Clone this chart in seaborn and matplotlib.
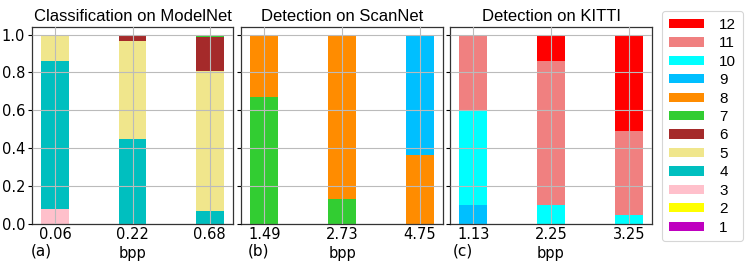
import matplotlib
matplotlib.use("Agg")
import matplotlib.pyplot as plt
import seaborn as sns
import numpy as np
from matplotlib.patches import Patch

# ---------------- data ----------------
classes = [1, 2, 3, 4, 5, 6, 7, 8, 9, 10, 11, 12]
class_colors = ["#bf00bf", "#ffff00", "#ffc0cb", "#00bfbf", "#f0e68c", "#a52a2a",
                "#32cd32", "#ff8c00", "#00bfff", "#00ffff", "#f08080", "#ff0000"]

titles = ["Classification on ModelNet", "Detection on ScanNet", "Detection on KITTI"]
panel_tags = ["(a)", "(b)", "(c)"]

modelnet_bpp = ["0.06", "0.22", "0.68"]
scannet_bpp = ["1.49", "2.73", "4.75"]
kitti_bpp = ["1.13", "2.25", "3.25"]

# fraction of each class per bar (class -> values for the three bpp points)
modelnet_fracs = {3: [0.08, 0.00, 0.00],
                  4: [0.78, 0.45, 0.07],
                  5: [0.14, 0.515, 0.74],
                  6: [0.00, 0.035, 0.175],
                  7: [0.00, 0.00, 0.015]}
scannet_fracs = {7: [0.67, 0.13, 0.00],
                 8: [0.33, 0.86, 0.365],
                 9: [0.00, 0.01, 0.635]}
kitti_fracs = {9: [0.10, 0.00, 0.00],
               10: [0.50, 0.10, 0.05],
               11: [0.40, 0.76, 0.44],
               12: [0.00, 0.14, 0.51]}

panels = [(modelnet_bpp, modelnet_fracs), (scannet_bpp, scannet_fracs), (kitti_bpp, kitti_fracs)]

# ---------------- style ----------------
sns.set_style("whitegrid", {"axes.edgecolor": "#333333", "grid.color": "#bbbbbb"})
plt.rcParams["font.family"] = ["Liberation Sans", "DejaVu Sans"]
plt.rcParams["text.color"] = "black"
plt.rcParams["xtick.color"] = "black"
plt.rcParams["ytick.color"] = "black"
plt.rcParams["axes.labelcolor"] = "black"

wide = ["DejaVu Sans"]

W, H = 748, 262
fig = plt.figure(figsize=(W / 100, H / 100), dpi=100)

ax_lefts = [32, 241, 450]
ax_widths = [201, 202, 202]
ax_top, ax_bottom = 27, 224
tag_x = [31, 248, 453]

for i, (bpp, fracs) in enumerate(panels):
    ax = fig.add_axes([ax_lefts[i] / W, 1 - ax_bottom / H, ax_widths[i] / W, (ax_bottom - ax_top) / H])
    present = sorted(fracs.keys())
    cum = np.zeros(len(bpp))
    cums = {}
    for k in present:
        cum = cum + np.array(fracs[k])
        cums[k] = cum.copy()
    for k in reversed(present):
        sns.barplot(x=bpp, y=cums[k], order=bpp, color=class_colors[k - 1],
                    width=0.36, saturation=1, linewidth=0, ax=ax)
    ax.set_xlim(-0.3, 2.3)
    ax.set_ylim(0, 1.04)
    ax.set_yticks([0.0, 0.2, 0.4, 0.6, 0.8, 1.0])
    ax.grid(True, color="#bbbbbb", linewidth=0.8)
    ax.set_axisbelow(False)
    for s in ax.spines.values():
        s.set_color("#333333")
        s.set_linewidth(0.9)
    ax.tick_params(axis="y", left=True, length=3, width=0.8, pad=2)
    ax.tick_params(axis="x", bottom=False, length=0, pad=2.5)
    for lab in ax.get_xticklabels():
        lab.set_family(wide)
        lab.set_fontsize(10.5)
    if i > 0:
        ax.tick_params(axis="y", labelleft=False)
    else:
        ax.set_yticklabels(["0.0", "0.2", "0.4", "0.6", "0.8", "1.0"], family=wide, fontsize=10.5)
    ax.set_title(titles[i], fontsize=12, pad=4)
    ax.set_xlabel("bpp", fontsize=10.5, labelpad=2.5, family=wide)
    ax.set_ylabel("")
    fig.text(tag_x[i] / W, 1 - 251 / H, panel_tags[i], ha="left", va="center",
             fontsize=11, family=wide)

handles = [Patch(facecolor=class_colors[k - 1], edgecolor="none", label=str(k)) for k in reversed(classes)]
leg = fig.legend(handles=handles, loc="upper left", bbox_to_anchor=(662 / W, 1 - 11 / H),
                 frameon=True, fontsize=11, handlelength=2.3, handleheight=0.55,
                 labelspacing=0.29, handletextpad=1.0, borderpad=0.45, borderaxespad=0,
                 fancybox=True)
leg.get_frame().set_edgecolor("#cccccc")
leg.get_frame().set_linewidth(0.8)

fig.savefig("out.png", dpi=100)
